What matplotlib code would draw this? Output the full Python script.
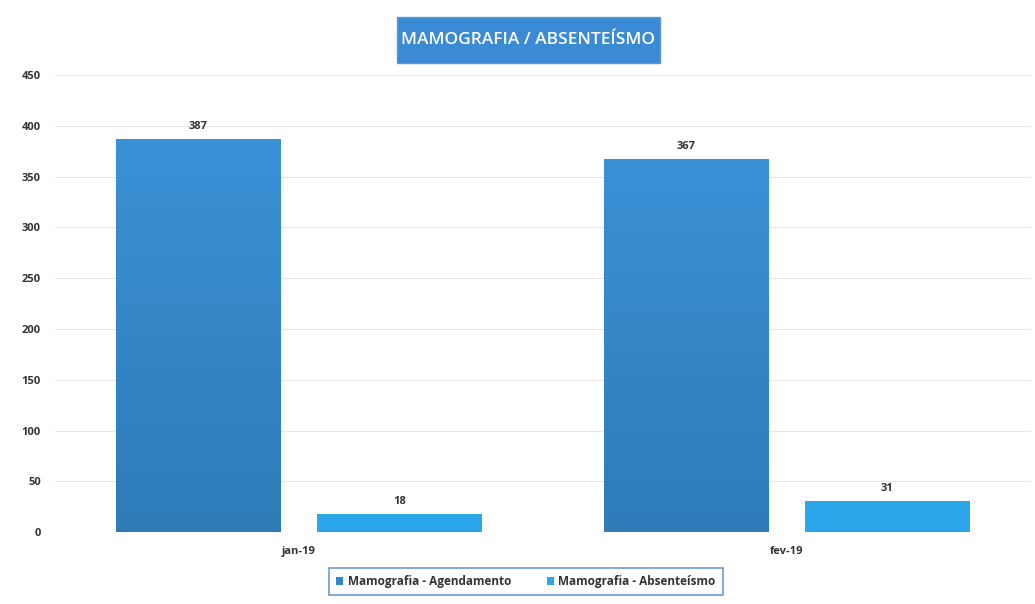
import numpy as np
import matplotlib.pyplot as plt
from matplotlib.colors import LinearSegmentedColormap
from matplotlib.patches import Rectangle

months = ["jan-19", "fev-19"]
agendamento = [387, 367]
absenteismo = [18, 31]
series_names = ["Mamografia - Agendamento", "Mamografia - Absenteísmo"]
yticks = [0, 50, 100, 150, 200, 250, 300, 350, 400, 450]

plt.rcParams["font.family"] = ["Open Sans", "DejaVu Sans"]

fig = plt.figure(figsize=(10.35, 6.04), dpi=100)
ax = fig.add_axes([0.053, 0.119, 0.943, 0.757])

x = np.arange(len(months))
w = 0.337
off = 0.206

b1 = ax.bar(x - off, agendamento, w, color="#3388cc", label=series_names[0], zorder=2)
b2 = ax.bar(x + off, absenteismo, w, color="#2ba6ea", label=series_names[1], zorder=2)

# vertical gradient on the first series, like the Excel fill
cmap1 = LinearSegmentedColormap.from_list("g1", ["#2f7bb8", "#3a91d6"])
grad = np.linspace(0, 1, 256).reshape(-1, 1)
for rect in b1:
    x0, y0 = rect.get_x(), rect.get_y()
    im = ax.imshow(grad, cmap=cmap1, aspect="auto", origin="lower",
                   extent=[x0, x0 + rect.get_width(), y0, y0 + rect.get_height()],
                   zorder=3)
    im.set_clip_path(rect)

for bars in (b1, b2):
    for rect in bars:
        ax.text(rect.get_x() + rect.get_width() / 2, rect.get_height() + 7,
                f"{int(rect.get_height())}", ha="center", va="bottom",
                fontsize=8, fontweight="bold", color="#333333", zorder=4)

ax.set_xlim(-0.5, 1.5)
ax.set_ylim(0, 450)
ax.set_yticks(yticks)
ax.set_xticks(x)
ax.set_xticklabels(months)
ax.yaxis.grid(True, color="#e6e6e6", linewidth=0.8, zorder=0)
ax.set_axisbelow(True)
for s in ax.spines.values():
    s.set_visible(False)
ax.tick_params(length=0, labelsize=8, labelcolor="#333333", pad=10)
for lab in ax.get_xticklabels() + ax.get_yticklabels():
    lab.set_fontweight("bold")

# title box
fig.patches.append(Rectangle((0.3836, 0.8957), 0.254, 0.0762, transform=fig.transFigure,
                             facecolor="#3a8ad4", edgecolor="#5c9ad6", linewidth=1))
fig.text(0.5106, 0.9338, "MAMOGRAFIA / ABSENTEÍSMO", ha="center", va="center",
         fontsize=12.5, fontweight="semibold", color="white")

leg = fig.legend(loc="lower center", bbox_to_anchor=(0.508, 0.005), ncol=2,
                 fontsize=8.5, frameon=True, fancybox=False, edgecolor="#4a7fd0",
                 handlelength=0.6, handleheight=0.6, columnspacing=3.0,
                 borderpad=0.6, handletextpad=0.4, borderaxespad=0.5)
leg.get_frame().set_linewidth(1.2)
for t in leg.get_texts():
    t.set_fontweight("bold")
    t.set_color("#333333")

fig.savefig("out.png", dpi=100)
